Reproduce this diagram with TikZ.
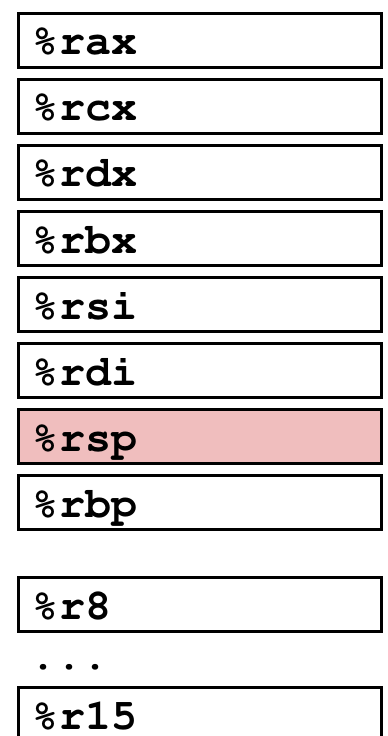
\documentclass[tikz,border=0pt]{standalone}
\usepackage[T1]{fontenc}
\usepackage{courier}
\usepackage{tikz}
\definecolor{spfill}{RGB}{240,190,190}
\tikzset{
    regfont/.style={
        font=\ttfamily\bfseries\fontsize{37}{40}\selectfont
    },
    reg/.style={
        regfont,
        draw,
        line width=0.09cm,
        minimum width=10.89cm,
        minimum height=1.62cm,
        text width=10.02cm,
        inner xsep=0.435cm,
        inner ysep=0pt,
        text height=0.87cm,
        text depth=0pt,
        align=left
    }
}

\begin{document}
\begin{tikzpicture}[
    x=0.03cm,
    y=-0.03cm
]
    \useasboundingbox (0,0) rectangle (387,736);

    % Registros
    \node[reg]               (rax) at (200,40.5)  {\%rax};
    \node[reg]               (rcx) at (200,106.5) {\%rcx};
    \node[reg]               (rdx) at (200,172.5) {\%rdx};
    \node[reg]               (rbx) at (200,238.5) {\%rbx};
    \node[reg]               (rsi) at (200,304.5) {\%rsi};
    \node[reg]               (rdi) at (200,370.5) {\%rdi};
    \node[reg, fill=spfill]  (rsp) at (200,436.5) {\%rsp};
    \node[reg]               (rbp) at (200,502.5) {\%rbp};

    % Registros nuevos
    \node[reg]               (r8)  at (200,604.5) {\%r8};
    \node[regfont, anchor=base west, inner sep=0pt]
                             (dots) at (30,669)   {...};
    \node[reg]               (r15) at (200,714.5) {\%r15};

\end{tikzpicture}
\end{document}
